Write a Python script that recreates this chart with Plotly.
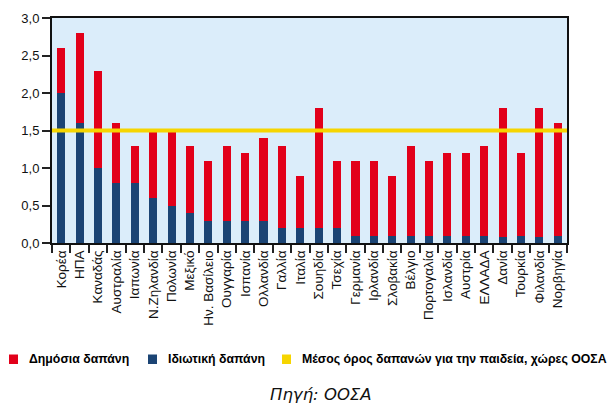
import plotly.graph_objects as go

# Education spending as % of GDP by country
countries = ["Κορέα", "ΗΠΑ", "Καναδάς", "Αυστραλία", "Ιαπωνία", "Ν.Ζηλανδία",
             "Πολωνία", "Μεξικό", "Ην. Βασίλειο", "Ουγγαρία", "Ισπανία", "Ολλανδία",
             "Γαλλία", "Ιταλία", "Σουηδία", "Τσεχία", "Γερμανία", "Ιρλανδία",
             "Σλοβακία", "Βέλγιο", "Πορτογαλία", "Ισλανδία", "Αυστρία", "ΕΛΛΑΔΑ",
             "Δανία", "Τουρκία", "Φιλανδία", "Νορβηγία"]
private = [2.0, 1.6, 1.0, 0.8, 0.8, 0.6, 0.5, 0.4, 0.3, 0.3, 0.3, 0.3,
           0.2, 0.2, 0.2, 0.2, 0.1, 0.1, 0.1, 0.1, 0.1, 0.1, 0.1, 0.1,
           0.08, 0.1, 0.08, 0.1]
public = [0.6, 1.2, 1.3, 0.8, 0.5, 0.9, 1.0, 0.9, 0.8, 1.0, 0.9, 1.1,
          1.1, 0.7, 1.6, 0.9, 1.0, 1.0, 0.8, 1.2, 1.0, 1.1, 1.1, 1.2,
          1.72, 1.1, 1.72, 1.5]
oecd_average = 1.5

RED = "#e2001a"
BLUE = "#1b4474"
YELLOW = "#f6d500"
FONT = "Liberation Sans, Arial, sans-serif"

fig = go.Figure()
fig.add_trace(go.Bar(x=countries, y=private, marker_color=BLUE,
                     marker_line_width=0, name="Ιδιωτική δαπάνη"))
fig.add_trace(go.Bar(x=countries, y=public, marker_color=RED,
                     marker_line_width=0, name="Δημόσια δαπάνη"))

# OECD average line across the whole plot
fig.add_shape(type="line", xref="paper", yref="y", x0=0, x1=1,
              y0=oecd_average, y1=oecd_average,
              line=dict(color=YELLOW, width=4), layer="above")

# Pixel helpers for placing the custom legend below the plot
PL, PW, PB, PH = 52, 515, 243, 225


def px_x(v):
    return (v - PL) / PW


def px_y(v):
    return (PB - v) / PH


legend_items = [(RED, "Δημόσια δαπάνη", 9, 28),
                (BLUE, "Ιδιωτική δαπάνη", 148, 167),
                (YELLOW, "Μέσος όρος δαπανών για την παιδεία, χώρες ΟΟΣΑ", 282, 301)]
for color, label, sq, tx in legend_items:
    fig.add_shape(type="rect", xref="paper", yref="paper",
                  x0=px_x(sq), x1=px_x(sq + 9),
                  y0=px_y(364), y1=px_y(354.5),
                  fillcolor=color, line_width=0)
    fig.add_annotation(text="<b>" + label + "</b>", xref="paper", yref="paper",
                       x=px_x(tx - 1), y=px_y(359),
                       xanchor="left", yanchor="middle", showarrow=False,
                       font=dict(family=FONT, size=12.3, color="#000000"))

fig.add_annotation(text="<i>Πηγή: ΟΟΣΑ</i>", xref="paper", yref="paper",
                   x=px_x(321), y=px_y(394),
                   xanchor="center", yanchor="middle", showarrow=False,
                   font=dict(family="DejaVu Sans, sans-serif", size=16.5,
                             color="#111111"))

fig.update_layout(
    width=610, height=405,
    barmode="stack", bargap=0.56,
    showlegend=False,
    separators=",.",
    plot_bgcolor="#dbedfa", paper_bgcolor="#ffffff",
    margin=dict(l=52, r=43, t=18, b=162),
    font=dict(family=FONT, size=13, color="#111111"),
    xaxis=dict(type="category", tickangle=-90, ticks="outside",
               tickson="boundaries", ticklen=8, tickcolor="#222222",
               tickwidth=1.5, showline=True, linecolor="#111111",
               linewidth=2, mirror=True, showgrid=False,
               tickfont=dict(size=13.5)),
    yaxis=dict(range=[0, 3], dtick=0.5, tickformat=".1f", ticks="outside",
               ticklen=8, tickcolor="#222222", tickwidth=1.5,
               showline=True, linecolor="#111111", linewidth=2, mirror=True,
               showgrid=False, zeroline=False, tickfont=dict(size=13)),
)

fig.write_html("out.html")
